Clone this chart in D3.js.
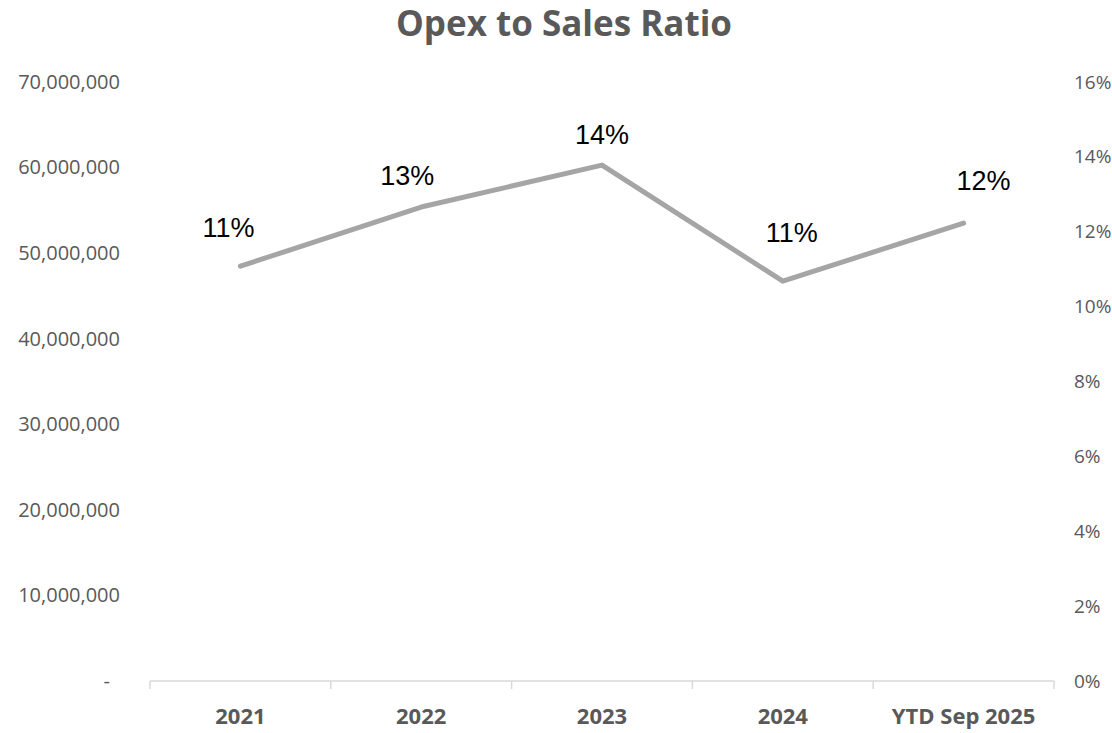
<!DOCTYPE html>
<html>
<head>
<meta charset="utf-8">
<script src="https://cdn.jsdelivr.net/npm/d3@7"></script>
<style>
  body { margin: 0; background: #fff; }
  svg { display: block; }
  .axis text { font-family: "Open Sans", sans-serif; fill: #595959; }
</style>
</head>
<body>
<svg id="chart" width="1112" height="733"></svg>
<script>
// data
const categories = ['2021', '2022', '2023', '2024', 'YTD Sep 2025'];
const ratios = [0.1108, 0.1266, 0.1378, 0.1068, 0.1223];
const ratioLabels = ['11%', '13%', '14%', '11%', '12%'];
const leftTicks = [0, 10000000, 20000000, 30000000, 40000000, 50000000, 60000000, 70000000];
const rightTicks = [0, 0.02, 0.04, 0.06, 0.08, 0.10, 0.12, 0.14, 0.16];

// label nudges (where excel put them)
const labelNudge = [[-12, -39], [-14, -31], [0, -31], [9, -49], [20, -43]];

const svg = d3.select('#chart');
const plotL = 150, plotR = 1054, plotT = 82, plotB = 681;

const x = d3.scaleBand().domain(categories).range([plotL, plotR]);
const yL = d3.scaleLinear().domain([0, 70000000]).range([plotB, plotT]);
const yR = d3.scaleLinear().domain([0, 0.16]).range([plotB, plotT]);

// title
svg.append('text')
  .attr('x', 564).attr('y', 36)
  .attr('text-anchor', 'middle')
  .style('font-family', '"Open Sans", sans-serif')
  .style('font-weight', 'bold')
  .style('font-size', '35px')
  .style('fill', '#595959')
  .text('Opex to Sales Ratio');

// left axis
const gL = svg.append('g').attr('class', 'axis')
  .attr('transform', `translate(${plotL},0)`)
  .call(d3.axisLeft(yL).tickValues(leftTicks).tickSize(0).tickPadding(30)
    .tickFormat(d => d === 0 ? '-' : d3.format(',')(d)));
gL.select('.domain').remove();
gL.selectAll('text').style('font-size', '20px')
  .attr('dx', d => d === 0 ? -10 : 0);

// right axis
const gR = svg.append('g').attr('class', 'axis')
  .attr('transform', `translate(${plotR},0)`)
  .call(d3.axisRight(yR).tickValues(rightTicks).tickSize(0).tickPadding(20)
    .tickFormat(d3.format('.0%')));
gR.select('.domain').remove();
gR.selectAll('text').style('font-size', '19px');

// category axis
const gX = svg.append('g').attr('class', 'axis')
  .attr('transform', `translate(0,${plotB})`);
gX.append('line')
  .attr('x1', plotL).attr('x2', plotR)
  .attr('stroke', '#d9d9d9').attr('stroke-width', 1.5);
gX.selectAll('.tk')
  .data(d3.range(categories.length + 1))
  .join('line')
  .attr('class', 'tk')
  .attr('x1', i => plotL + i * x.step()).attr('x2', i => plotL + i * x.step())
  .attr('y1', 0).attr('y2', 8)
  .attr('stroke', '#d9d9d9').attr('stroke-width', 1.5);
gX.selectAll('.cat')
  .data(categories)
  .join('text')
  .attr('class', 'cat')
  .attr('x', d => x(d) + x.bandwidth() / 2)
  .attr('y', 43)
  .attr('text-anchor', 'middle')
  .style('font-size', '22px')
  .style('font-weight', 'bold')
  .text(d => d);

// line
const pts = categories.map((c, i) => [x(c) + x.bandwidth() / 2, yR(ratios[i])]);
svg.append('path')
  .attr('d', d3.line()(pts))
  .attr('fill', 'none')
  .attr('stroke', '#a5a5a5')
  .attr('stroke-width', 5)
  .attr('stroke-linecap', 'round')
  .attr('stroke-linejoin', 'round');

// data labels
svg.selectAll('.lbl')
  .data(ratioLabels)
  .join('text')
  .attr('class', 'lbl')
  .attr('x', (d, i) => pts[i][0] + labelNudge[i][0])
  .attr('y', (d, i) => pts[i][1] + labelNudge[i][1])
  .attr('dy', '0.35em')
  .attr('text-anchor', 'middle')
  .style('font-family', '"Liberation Sans", Arial, sans-serif')
  .style('font-size', '27px')
  .style('fill', '#000')
  .text(d => d);
</script>
</body>
</html>
